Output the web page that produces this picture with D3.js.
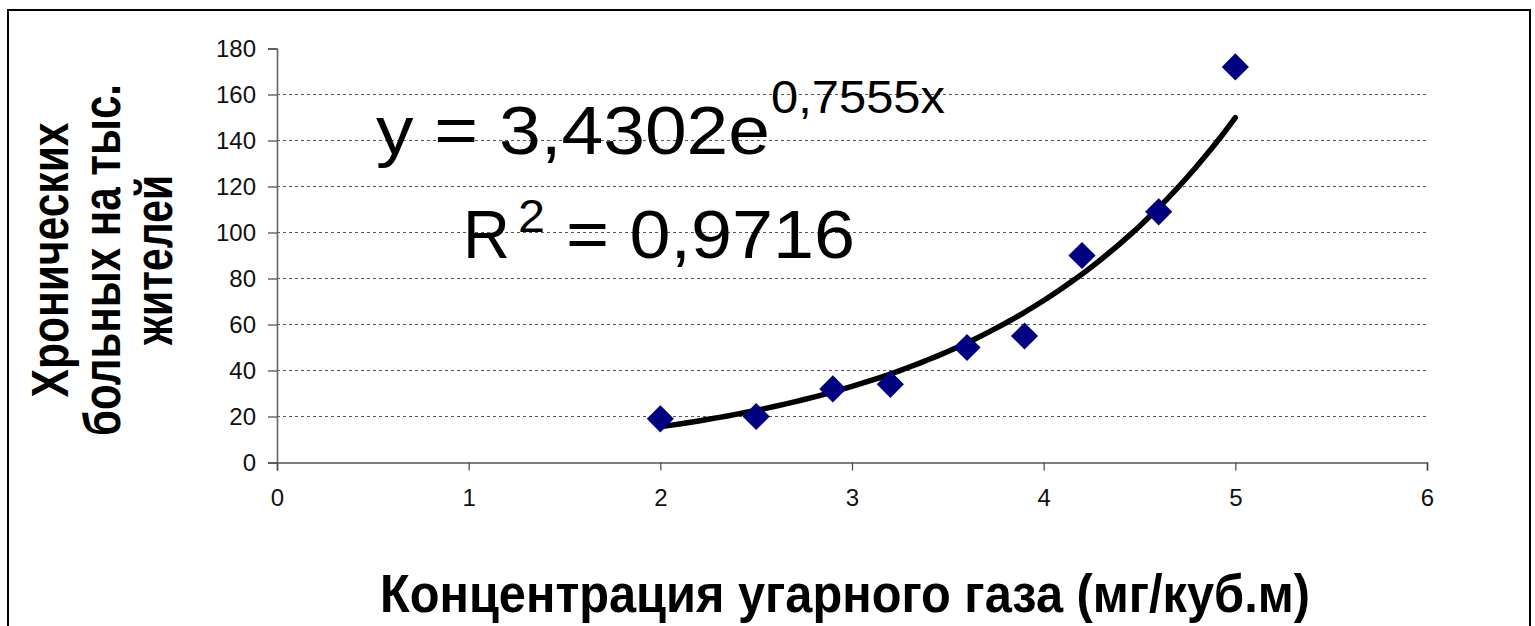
<!DOCTYPE html>
<html>
<head>
<meta charset="utf-8">
<script src="https://cdn.jsdelivr.net/npm/d3@7"></script>
<style>
  body { margin: 0; background: #fff; }
  text { font-family: "Liberation Sans", Arial, sans-serif; }
</style>
</head>
<body>
<div id="chart"></div>
<script>
// chart values
const concentration = [2, 2.5, 2.9, 3.2, 3.6, 3.9, 4.2, 4.6, 5];
const patients = [19, 20, 32, 34, 50, 55, 90, 109, 172];
const xTicks = [0, 1, 2, 3, 4, 5, 6];
const yTicks = [0, 20, 40, 60, 80, 100, 120, 140, 160, 180];
const trendCoef = [3.4302, 0.7555]; // y = a * e^(b x)
const trendLabel = ["y = 3,4302e", "0,7555x"];
const r2Label = ["R", "2", "= 0,9716"];
const xTitle = "Концентрация угарного газа (мг/куб.м)";
const yTitle = ["Хронических", "больных на тыс.", "жителей"];

(function() {
    const width = 1535
    const height = 626

    const svg = d3.select("#chart")
        .append("svg")
        .attr("width", width)
        .attr("height", height)

    // outer frame
    svg.append("rect")
        .attr("x", 8).attr("y", 10)
        .attr("width", 1522).attr("height", 640)
        .attr("fill", "none")
        .attr("stroke", "#000")
        .attr("stroke-width", 2)

    const x = d3.scaleLinear().domain([0, 6]).range([277, 1427])
    const y = d3.scaleLinear().domain([0, 180]).range([462.5, 48.5])

    // grid lines
    svg.append("g")
        .selectAll("line")
        .data(yTicks.filter(d => d > 0 && d < 180))
        .join("line")
        .attr("x1", x(0)).attr("x2", x(6))
        .attr("y1", d => y(d)).attr("y2", d => y(d))
        .attr("stroke", "#555")
        .attr("stroke-width", 1.2)
        .attr("stroke-dasharray", "3,3")

    // y axis
    const yAxis = svg.append("g")
        .attr("transform", `translate(${x(0)},0)`)
        .call(d3.axisLeft(y).tickValues(yTicks).tickSize(9).tickPadding(12))
    yAxis.select(".domain").attr("stroke", "#666").attr("stroke-width", 1.6)
    yAxis.selectAll(".tick line").attr("stroke", "#444").attr("stroke-width", 1.2)
    yAxis.selectAll(".tick text")
        .attr("font-size", 24)
        .attr("font-family", "Liberation Sans, Arial, sans-serif")
        .attr("fill", "#111")

    // x axis
    const xAxis = svg.append("g")
        .attr("transform", `translate(0,${y(0)})`)
        .call(d3.axisBottom(x).tickValues(xTicks).tickFormat(d3.format("d")).tickSize(8).tickPadding(18))
    xAxis.select(".domain").attr("stroke", "#555").attr("stroke-width", 1.6)
    xAxis.selectAll(".tick line").attr("stroke", "#444").attr("stroke-width", 1.2)
    xAxis.selectAll(".tick text")
        .attr("font-size", 24)
        .attr("font-family", "Liberation Sans, Arial, sans-serif")
        .attr("fill", "#111")

    // trend line from the displayed equation
    const xs = d3.range(0, 61).map(i => 2 + i * 0.05)
    const line = d3.line()
        .x(d => x(d))
        .y(d => y(trendCoef[0] * Math.exp(trendCoef[1] * d)))
        .curve(d3.curveMonotoneX)
    svg.append("path")
        .datum(xs)
        .attr("d", line)
        .attr("fill", "none")
        .attr("stroke", "#000")
        .attr("stroke-width", 5.5)
        .attr("stroke-linecap", "round")

    // markers
    const pts = concentration.map((c, i) => ({ c: c, v: patients[i] }))
    svg.append("g")
        .selectAll("path")
        .data(pts)
        .join("path")
        .attr("d", d3.symbol().type(d3.symbolDiamond2).size(470))
        .attr("transform", d => `translate(${x(d.c)},${y(d.v)})`)
        .attr("fill", "#000080")

    // equation and R^2, each part stretched like the original
    const label = (txt, xPos, yPos, size, len) => svg.append("text")
        .attr("x", xPos).attr("y", yPos)
        .attr("font-size", size)
        .attr("textLength", len)
        .attr("lengthAdjust", "spacingAndGlyphs")
        .attr("fill", "#000")
        .text(txt)
    label(trendLabel[0], 376, 154, 68, 394)
    label(trendLabel[1], 771, 113, 46, 174)
    label(r2Label[0], 463, 258, 68, 47)
    label(r2Label[1], 518, 232, 46, 27)
    label(r2Label[2], 566, 258, 68, 289)

    // x axis title
    svg.append("text")
        .attr("x", 380).attr("y", 612)
        .attr("font-size", 54)
        .attr("font-weight", "bold")
        .attr("textLength", 930)
        .attr("lengthAdjust", "spacingAndGlyphs")
        .text(xTitle)

    // y axis title
    const yt = svg.append("g")
        .attr("transform", "translate(0,260) rotate(-90)")
    const yLens = [275, 352, 170]
    yt.selectAll("text")
        .data(yTitle)
        .join("text")
        .attr("x", 0)
        .attr("y", (d, i) => 68 + i * 52)
        .attr("text-anchor", "middle")
        .attr("font-size", 51)
        .attr("font-weight", "bold")
        .attr("textLength", (d, i) => yLens[i])
        .attr("lengthAdjust", "spacingAndGlyphs")
        .text(d => d)
})();
</script>
</body>
</html>
